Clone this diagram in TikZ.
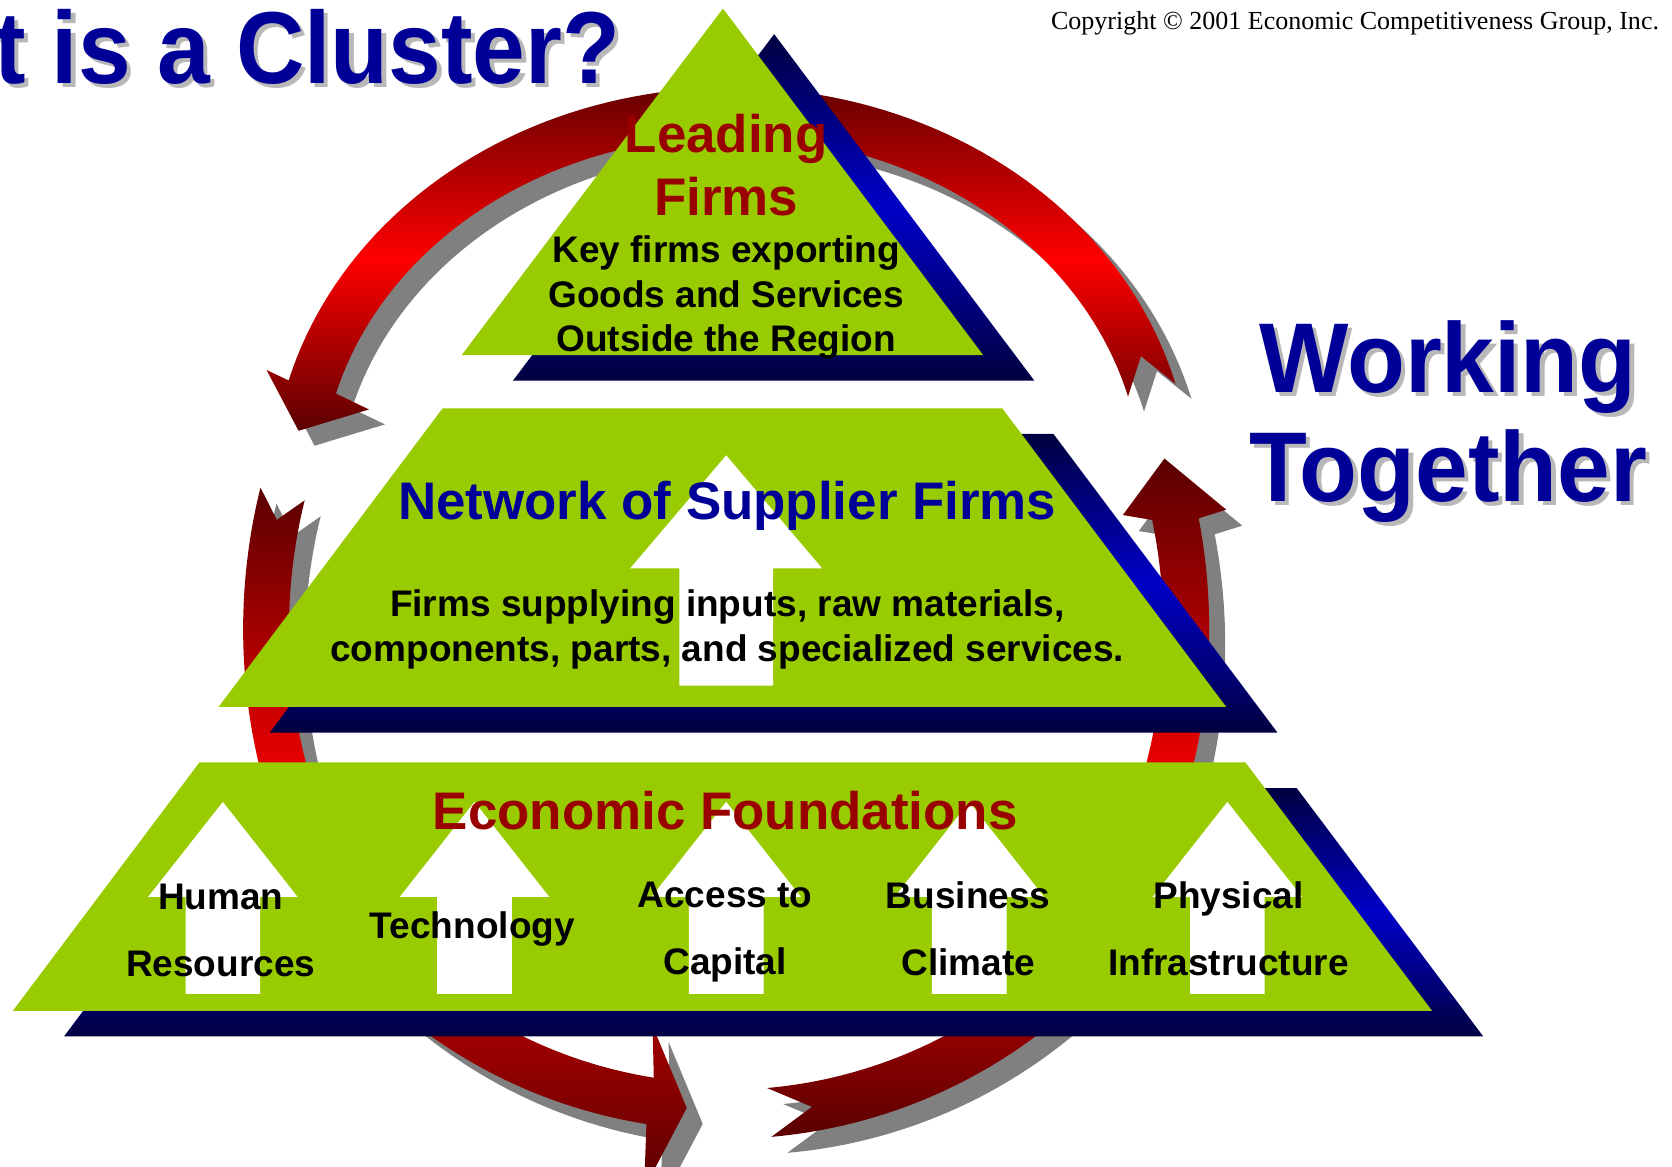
\documentclass[tikz,border=0pt]{standalone}
\usepackage{graphicx}
\usepackage{fontspec}
\setmainfont{Liberation Sans}
\newfontfamily\copyfont{Liberation Serif}
\definecolor{leaf}{HTML}{99CC00}
\definecolor{navydk}{HTML}{000040}
\definecolor{navybr}{HTML}{0000C8}
\definecolor{titleblue}{HTML}{000099}
\definecolor{firmred}{HTML}{990000}
\definecolor{shadowgray}{HTML}{808080}
\definecolor{txtshadow}{HTML}{B8B8B8}
\definecolor{maroondk}{HTML}{5A0000}
\definecolor{maroontop}{HTML}{660000}
\definecolor{brightred}{HTML}{FF0000}
\newcommand\blockup[6]{\fill[white] (#1,#2) -- ({#1+#3},#4) -- ({#1+#5},#4) -- ({#1+#5},#6) -- ({#1-#5},#6) -- ({#1-#5},#4) -- ({#1-#3},#4) -- cycle;}
\newcommand\narrowtitle[1]{\scalebox{0.925}[1]{#1}}
\newcommand\narrowside[1]{\scalebox{0.955}[1]{#1}}
\begin{document}
\begin{tikzpicture}[x=1pt,y=-1pt,
  bigtitle/.style={inner sep=0pt, font=\fontsize{96}{100}\selectfont\bfseries},
  sidetitle/.style={inner sep=0pt, font=\fontsize{93}{100}\selectfont\bfseries},
  titletext/.style={bigtitle, text=titleblue},
  titleshadow/.style={bigtitle, text=txtshadow},
  sidetext/.style={sidetitle, text=titleblue},
  sideshadow/.style={sidetitle, text=txtshadow},
  headtxt/.style={inner sep=0pt, anchor=base, font=\fontsize{49.6}{56}\selectfont\bfseries},
  lbl/.style={inner sep=0pt, anchor=base, font=\fontsize{34.7}{40}\selectfont\bfseries, text=black},
  copytxt/.style={inner sep=0pt, font=\fontsize{24.4}{28}\selectfont\copyfont, text=black},
  navyshade/.style={top color=navydk, bottom color=navydk, middle color=navybr},
  toparc/.style={insert path={plot[domain=-15:-164.5,samples=90,variable=\t] ({686+431*cos(\t)},{457+375*sin(\t)}) -- (250,347) -- (280,404) -- (346,384) -- plot[domain=-164.5:-15,samples=90,variable=\t] ({686+385*cos(\t)},{457+329*sin(\t)}) -- (1070,334) -- cycle}},
  leftarc/.style={insert path={plot[domain=195.4:160,samples=50,variable=\t] ({681+453*cos(\t)},{590+500*sin(\t)}) -- plot[domain=160:195.4,samples=50,variable=\t] ({681+410*cos(\t)},{590+455*sin(\t)}) -- (259.6,487.5) -- cycle}},
  rightarc/.style={insert path={plot[domain=20:-12,samples=50,variable=\t] ({681+453*cos(\t)},{590+500*sin(\t)}) -- (1150,478) -- (1092,430) -- (1053,483) -- plot[domain=-13:20,samples=50,variable=\t] ({681+410*cos(\t)},{590+455*sin(\t)}) -- cycle}},
  botleft/.style={insert path={plot[domain=150:99,samples=50,variable=\t] ({681+478*cos(\t)},{582+478*sin(\t)}) -- (604,1115) -- (644,1039) -- (612,962) -- plot[domain=99:150,samples=50,variable=\t] ({681+434*cos(\t)},{582+434*sin(\t)}) -- cycle}},
  botright/.style={insert path={plot[domain=35:85,samples=50,variable=\t] ({681+486*cos(\t)},{582+486*sin(\t)}) -- (761.4,1038) -- plot[domain=85:35,samples=50,variable=\t] ({681+440*cos(\t)},{582+440*sin(\t)}) -- cycle}}
]
\useasboundingbox (0,0) rectangle (1568,1094);
\clip (0,0) rectangle (1568,1094);

% titles
\node[titleshadow, anchor=base east] (ttlS) at (586,82) {\narrowtitle{What is a Cluster?}};
\node[titletext, anchor=base east] (ttl) at (582,78) {\narrowtitle{What is a Cluster?}};
\node[copytxt, anchor=base east] (copy) at (1556,28) {Copyright © 2001 Economic Competitiveness Group, Inc.};
\node[sideshadow, anchor=base] (wkS) at (1362,372) {\narrowside{Working}};
\node[sidetext, anchor=base] (wk) at (1358,368) {\narrowside{Working}};
\node[sideshadow, anchor=base] (tgS) at (1362,474) {\narrowside{Together}};
\node[sidetext, anchor=base] (tg) at (1358,470) {\narrowside{Together}};

% arrow shadows
\fill[shadowgray, shift={(15,14)}, toparc];
\fill[shadowgray, shift={(15,15)}, leftarc];
\fill[shadowgray, shift={(15,15)}, rightarc];
\fill[shadowgray, shift={(15,15)}, botleft];
\fill[shadowgray, shift={(15,15)}, botright];

% red arrows
\shade[top color=maroontop, bottom color=maroondk, middle color=brightred, toparc];
\shade[top color=maroondk, bottom color=brightred, leftarc];
\shade[top color=maroondk, bottom color=brightred, rightarc];
\shade[top color=brightred!95!black, bottom color=maroondk, botleft];
\shade[top color=brightred!88!black, bottom color=maroondk, botright];

% pyramid levels
\shade[navyshade] (726,32) -- (970,357) -- (481,357) -- cycle;
\fill[leaf] (678,8) -- (922,333) -- (433,333) -- cycle;
\shade[navyshade] (463,407) -- (988,407) -- (1198,687) -- (253,687) -- cycle;
\fill[leaf] (415,383) -- (940,383) -- (1150,663) -- (205,663) -- cycle;
\shade[navyshade] (235,739) -- (1216,739) -- (1391,972) -- (60,972) -- cycle;
\fill[leaf] (187,715) -- (1168,715) -- (1343,948) -- (12,948) -- cycle;

% white up arrows
\blockup{681}{427}{90}{533}{44}{643}
\blockup{209}{752}{70}{841}{35}{932}
\blockup{445}{752}{70}{841}{35}{932}
\blockup{681}{752}{70}{841}{35}{932}
\blockup{909}{752}{70}{841}{35}{932}
\blockup{1151}{752}{70}{841}{35}{932}

% texts
\node[headtxt, text=firmred] (lf1) at (681,143) {Leading};
\node[headtxt, text=firmred] (lf2) at (681,202) {Firms};
\node[lbl] (lk1) at (681,246) {Key firms exporting};
\node[lbl] (lk2) at (681,288) {Goods and Services};
\node[lbl] (lk3) at (681,330) {Outside the Region};
\node[headtxt, text=titleblue] (ns) at (682,487) {Network of Supplier Firms};
\node[lbl] (ns1) at (682,578) {Firms supplying inputs, raw materials,};
\node[lbl] (ns2) at (682,620) {components, parts, and specialized services.};
\node[headtxt, text=firmred] (ef) at (680,778) {Economic Foundations};
\node[lbl] (hr1) at (207,853) {Human};
\node[lbl] (hr2) at (207,916) {Resources};
\node[lbl] (tec) at (443,880) {Technology};
\node[lbl] (ac1) at (680,851) {Access to};
\node[lbl] (ac2) at (680,914) {Capital};
\node[lbl] (bc1) at (908,852) {Business};
\node[lbl] (bc2) at (908,915) {Climate};
\node[lbl] (pi1) at (1152,852) {Physical};
\node[lbl] (pi2) at (1152,915) {Infrastructure};
\end{tikzpicture}
\end{document}
